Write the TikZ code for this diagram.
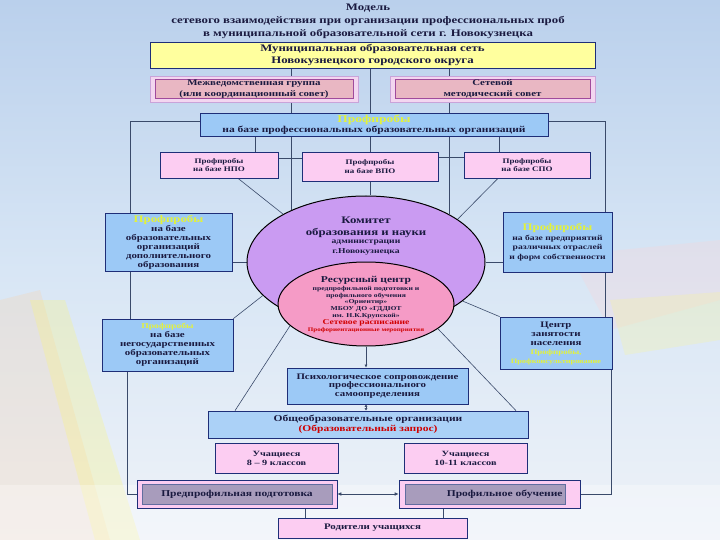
\documentclass[tikz,border=0pt]{standalone}
\usepackage{fontspec}
\setmainfont{Liberation Serif}[FakeStretch=1.28]
\usetikzlibrary{shapes.geometric,arrows.meta}
\pgfdeclarelayer{bgl}
\pgfdeclarelayer{lines}
\pgfsetlayers{bgl,lines,main}
\definecolor{bgtop}{HTML}{BAD0EC}
\definecolor{bgmid}{HTML}{D8E6F5}
\definecolor{bgbot}{HTML}{EEF2F8}
\definecolor{yel}{HTML}{FFFF9E}
\definecolor{pinkout}{HTML}{F3D6F0}
\definecolor{pinkbd}{HTML}{C9A3D9}
\definecolor{salmon}{HTML}{E9B7C3}
\definecolor{magbd}{HTML}{A04B9C}
\definecolor{pinkf}{HTML}{FCCDF2}
\definecolor{bluef}{HTML}{9CC9F6}
\definecolor{navy}{HTML}{1E2E78}
\definecolor{txt}{HTML}{1A1A40}
\definecolor{yl}{HTML}{E3F23A}
\definecolor{violetf}{HTML}{CA9BF2}
\definecolor{pinkell}{HTML}{F59BC6}
\definecolor{redt}{HTML}{D00000}
\definecolor{predin}{HTML}{A89CBC}
\definecolor{linec}{HTML}{3A4A6A}
\newcommand\myfs[2]{\fontsize{#1}{#2}\selectfont\bfseries}
\begin{document}
\begin{tikzpicture}[x=1pt,y=-1pt,
  base/.style={inner sep=0pt, align=center, text=txt},
  bx/.style={base, draw=navy, line width=0.7pt},
  pbox/.style={bx, fill=pinkf},
  bbox/.style={bx, fill=bluef},
  conn/.style={draw=linec, line width=0.6pt},
  tip/.style={-{Latex[length=3pt,width=3pt]}}
]
\begin{pgfonlayer}{bgl}
  \shade[top color=bgtop, bottom color=bgbot, middle color=bgmid] (0,0) rectangle (720,540);
  \fill[orange!40, opacity=0.22] (0,300) -- (40,290) -- (110,540) -- (0,540) -- cycle;
  \fill[yellow!60, opacity=0.25] (30,300) -- (65,300) -- (140,540) -- (95,540) -- cycle;
  \fill[pink!70, opacity=0.25] (570,255) -- (720,240) -- (720,300) -- (610,330) -- cycle;
  \fill[yellow!50, opacity=0.22] (610,300) -- (720,292) -- (720,340) -- (625,355) -- cycle;
  \fill[white, opacity=0.3] (0,485) rectangle (720,540);
\end{pgfonlayer}
\path[use as bounding box] (0,0) rectangle (720,540);

\node[base, font=\myfs{10}{13}] (title) at (368,21) {Модель\\сетевого взаимодействия при организации профессиональных проб\\в муниципальной образовательной сети г. Новокузнецка};

\node[bx, fill=yel, minimum width=445, minimum height=26, font=\myfs{10}{11.5}] (muni) at (372.5,55) {Муниципальная образовательная сеть\\Новокузнецкого городского округа};

\node[base, draw=pinkbd, fill=pinkout, line width=0.6pt, minimum width=208, minimum height=26] (mezh) at (254,89) {};
\node[base, draw=magbd, fill=salmon, line width=0.6pt, minimum width=198, minimum height=19, font=\myfs{8.5}{10.5}] (mezhin) at (mezh.center) {Межведомственная группа\\(или координационный совет)};
\node[base, draw=pinkbd, fill=pinkout, line width=0.6pt, minimum width=205, minimum height=26] (setevoy) at (492.5,89) {};
\node[base, draw=magbd, fill=salmon, line width=0.6pt, minimum width=195, minimum height=19, font=\myfs{8.5}{10.5}] (setevoyin) at (setevoy.center) {Сетевой\\методический совет};

\node[bbox, minimum width=348, minimum height=23, font=\myfs{9}{10}] (profblue) at (374,124.5) {\textcolor{yl}{\myfs{10.5}{10}Профпробы}\\на базе профессиональных образовательных организаций};

\node[pbox, minimum width=118, minimum height=26, font=\myfs{7}{8.5}] (npo) at (219,165) {Профпробы\\на базе НПО};
\node[pbox, minimum width=136, minimum height=29, font=\myfs{7}{8.5}] (vpo) at (370,166.5) {Профпробы\\на базе ВПО};
\node[pbox, minimum width=126, minimum height=26, font=\myfs{7}{8.5}] (spo) at (527,165) {Профпробы\\на базе СПО};

\node[bbox, minimum width=127, minimum height=58, font=\myfs{8.5}{9}] (leftb1) at (168.5,242) {\textcolor{yl}{\myfs{10}{9}Профпробы}\\на базе\\образовательных\\организаций\\дополнительного\\образования};
\node[bbox, minimum width=109, minimum height=60, font=\myfs{7.5}{9.5}] (rightb1) at (557.5,242) {\textcolor{yl}{\myfs{10}{9.5}Профпробы}\\на базе предприятий\\различных отраслей\\и форм собственности};

\node[ellipse, draw=black, line width=1pt, fill=violetf, minimum width=238, minimum height=132, inner sep=0pt] (komitet) at (366,262) {};
\node[ellipse, draw=black, line width=1pt, fill=pinkell, minimum width=176, minimum height=84, inner sep=0pt] (resource) at (366,304) {};

\node[base, font=\myfs{10}{12}] (komA) at (366,227) {Комитет\\образования и науки};
\node[base, font=\myfs{7.5}{10}] (komB) at (366,248) {администрации\\г.Новокузнецка};

\node[base, font=\myfs{9}{10}] (resA) at (366,280) {Ресурсный центр};
\node[base, font=\myfs{6}{6.75}] (resB) at (366,302.5) {предпрофильной подготовки и\\профильного обучения\\«Ориентир»\\МБОУ ДО «ГДДЮТ\\им. Н.К.Крупской»};
\node[base, font=\myfs{7.5}{7.5}, text=redt] (resC) at (366,323) {Сетевое расписание};
\node[base, font=\myfs{5.5}{6}, text=redt] (resD) at (366,330) {Профориентационные мероприятия};

\node[bbox, minimum width=131, minimum height=52, font=\myfs{8.5}{9}] (leftb2) at (167.5,345) {\textcolor{yl}{\myfs{7.5}{9}Профпробы}\\на базе\\негосударственных\\образовательных\\организаций};
\node[bbox, minimum width=112, minimum height=52, font=\myfs{8.5}{9}] (rightb2) at (556,343) {Центр\\занятости\\населения\\\textcolor{yl}{\myfs{7}{9}Профпробы,}\\\textcolor{yl}{\myfs{6.5}{9}Профконсультирование}};

\node[bbox, minimum width=181, minimum height=36, font=\myfs{8.5}{8.5}] (psych) at (377.5,386) {Психологическое сопровождение\\профессионального\\самоопределения};
\node[bx, fill=bluef!85!white, minimum width=320, minimum height=27, font=\myfs{9}{10}] (obsh) at (368,424.5) {Общеобразовательные организации\\\textcolor{redt}{(Образовательный запрос)}};

\node[pbox, minimum width=123, minimum height=30, font=\myfs{8}{9}] (uch89) at (276.5,458) {Учащиеся\\8 – 9 классов};
\node[pbox, minimum width=123, minimum height=30, font=\myfs{8}{9}] (uch1011) at (465.5,458) {Учащиеся\\10-11 классов};

\node[base, draw=navy, fill=pinkf, line width=0.6pt, minimum width=200, minimum height=28] (predprof) at (237,494) {};
\node[base, draw=navy!70, fill=predin, line width=0.5pt, minimum width=190, minimum height=20, font=\myfs{9}{10}] (predprofin) at (predprof.center) {Предпрофильная подготовка};
\node[base, draw=navy, fill=pinkf, line width=0.6pt, minimum width=181, minimum height=28] (profil) at (489.5,494) {};
\node[base, draw=navy!70, fill=predin, line width=0.5pt, minimum width=160, minimum height=20, text width=155, align=right, font=\myfs{9}{10}] (profilin) at (485,494) {Профильное обучение};

\node[pbox, minimum width=189, minimum height=20, font=\myfs{8.5}{10}] (roditeli) at (372.5,528) {Родители учащихся};

\coordinate (Lx) at (130,0);
\coordinate (Lx2) at (127,0);
\coordinate (Rx) at (605,0);
\coordinate (Rx2) at (611,0);

\begin{pgfonlayer}{lines}
\draw[conn] (muni.south -| komitet.145) -- (komitet.145);
\draw[conn] (muni.south -| komitet.30) -- (komitet.30);
\draw[conn] (muni.south -| vpo.north) -- (vpo.north);
\draw[conn] (vpo.south) -- (vpo.south |- komitet.north);
\draw[conn] ([xshift=36pt]npo.north) -- ([xshift=36pt]npo.north |- profblue.south);
\draw[conn] ([xshift=-28pt]spo.north) -- ([xshift=-28pt]spo.north |- profblue.south);
\draw[conn] ([yshift=7pt]npo.east) -- ([yshift=7pt]npo.east -| vpo.west);
\draw[conn] ([yshift=8pt]spo.west) -- ([yshift=8pt]spo.west -| vpo.east);
\draw[conn] ([xshift=19pt]npo.south) -- (komitet.150);
\draw[conn] ([xshift=-29pt]spo.south) -- (komitet.25);
\draw[conn] (leftb1.east |- komitet.west) -- (komitet.west);
\draw[conn] (rightb1.west |- komitet.east) -- (komitet.east);
\draw[conn] (leftb2.north east) -- (komitet.198);
\draw[conn] (rightb2.north west) -- (komitet.-22);
\draw[conn] (resource.196) -- ([xshift=-133pt]obsh.north);
\draw[conn] (resource.-19) -- ([xshift=148pt]obsh.north);
\draw[conn, tip] (resource.south) -- (resource.south |- psych.north);
\draw[conn, {Latex[length=2.5pt,width=3pt]}-{Latex[length=2.5pt,width=3pt]}] (psych.south -| resource.south) -- (obsh.north -| resource.south);
\draw[conn, {Latex[length=4pt,width=3.5pt]}-{Latex[length=4pt,width=3.5pt]}] (predprof.east) -- (profil.west);
\draw[conn] ([xshift=68pt]predprof.south) -- ([xshift=68pt]predprof.south |- roditeli.north);
\draw[conn] ([xshift=-46.5pt]profil.south) -- ([xshift=-46.5pt]profil.south |- roditeli.north);
\draw[conn] ([yshift=3.5pt]profblue.west) -| (Lx |- leftb1.north);
\draw[conn] (Lx |- leftb1.south) -- (Lx |- leftb2.north);
\draw[conn] (Lx2 |- leftb2.south) |- (predprof.west);
\draw[conn] ([yshift=3.5pt]profblue.east) -| (Rx |- rightb1.north);
\draw[conn] (Rx |- rightb1.south) -- (Rx |- rightb2.north);
\draw[conn] (Rx2 |- rightb2.south) |- (profil.east);
\end{pgfonlayer}
\end{tikzpicture}
\end{document}
